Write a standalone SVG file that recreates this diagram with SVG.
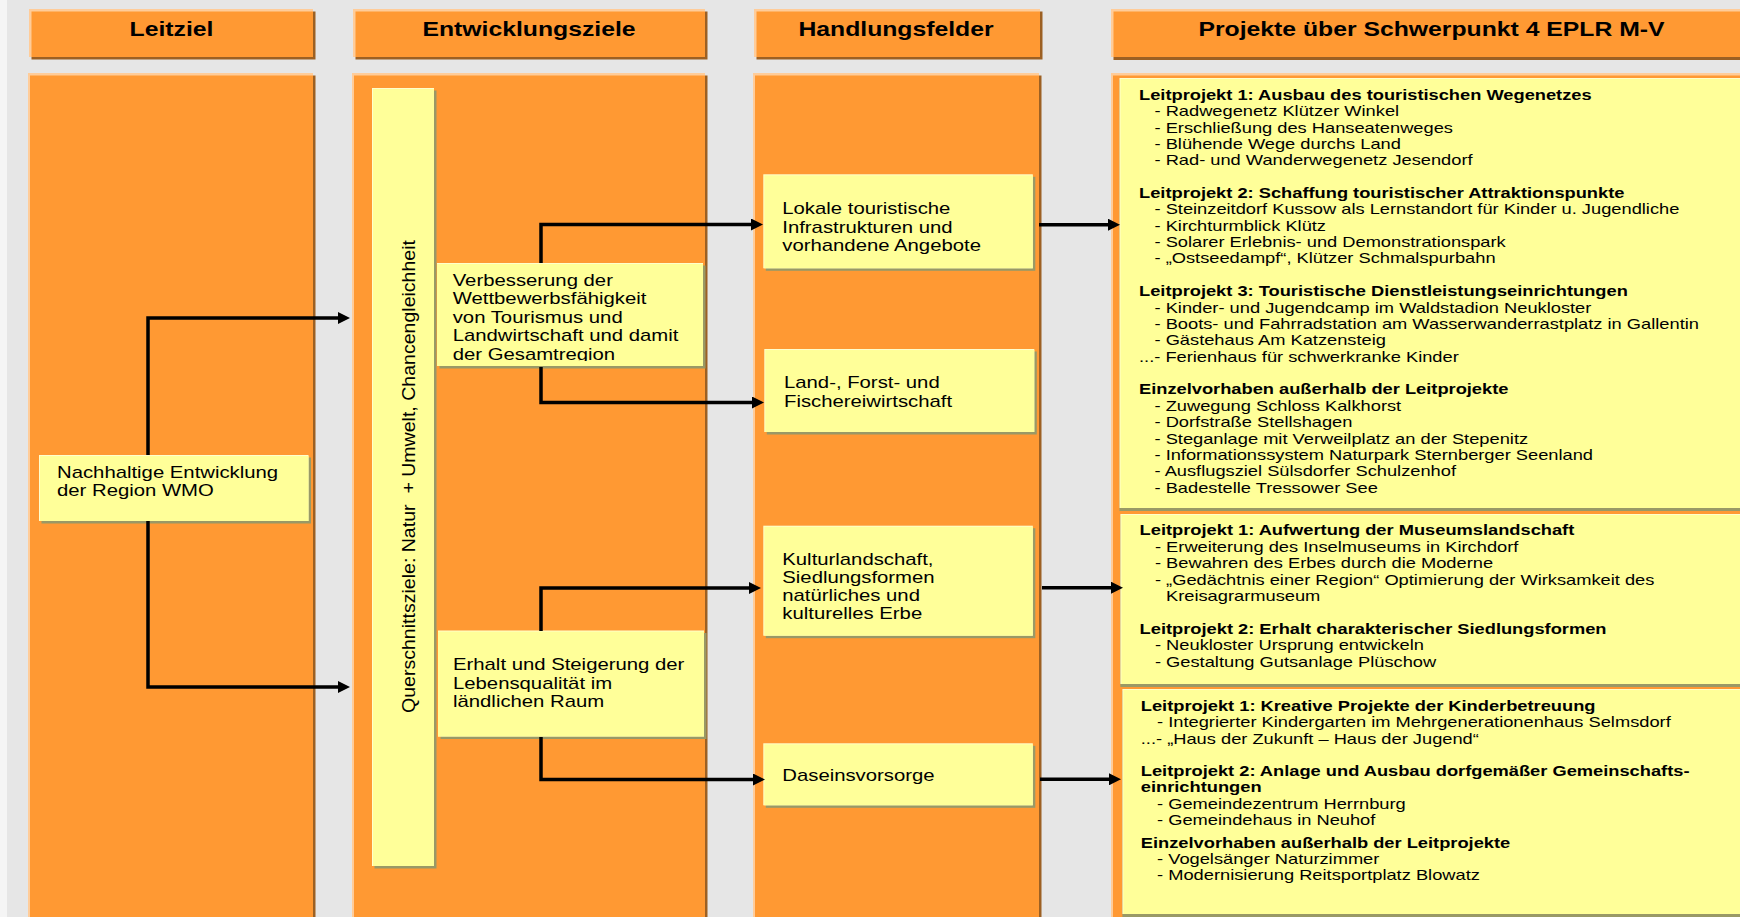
<svg xmlns="http://www.w3.org/2000/svg" width="1740" height="917" viewBox="0 0 1740 917">
<style>
.bg{fill:#e6e6e6}
.org{fill:#ff9933}
.hl{fill:#ffcc99}
.sh{fill:#9c6023}
.yel{fill:#ffff99}
.yhl{fill:#ffffcc}
.ysh{fill:#999966}
.t{font-family:"Liberation Sans",Arial,Helvetica,sans-serif;fill:#000}
.hd{font-size:19.5px;font-weight:bold}
.bx{font-size:16px}
.pj{font-size:14.4px}
.b{font-weight:bold}
.con{fill:none;stroke:#000;stroke-width:3.5;stroke-linejoin:miter}
</style>
<defs>
<marker id="ah" viewBox="0 0 12 12" refX="2" refY="6" markerWidth="12" markerHeight="12" markerUnits="userSpaceOnUse" orient="auto">
<path d="M0,0 L12,6 L0,12 z" fill="#000"/>
</marker>
<clipPath id="clipV"><rect x="437" y="263" width="267" height="98"/></clipPath>
</defs>
<rect class="bg" x="0" y="0" width="1740" height="917"/>
<rect x="0" y="0" width="7" height="917" fill="#f5f5f5"/>

<!-- Headers -->
<g id="hdr-leitziel">
<rect class="sh" x="31.5" y="11.5" width="284" height="48"/>
<rect class="hl" x="29" y="9" width="284" height="48"/>
<rect class="org" x="31.5" y="11.5" width="281.5" height="45.5"/>
<text class="t hd" text-anchor="middle" transform="translate(171.5,35.5) scale(1.27,1)">Leitziel</text>
</g>
<g id="hdr-entwicklungsziele">
<rect class="sh" x="355.5" y="11.5" width="352" height="48"/>
<rect class="hl" x="353" y="9" width="352" height="48"/>
<rect class="org" x="355.5" y="11.5" width="349.5" height="45.5"/>
<text class="t hd" text-anchor="middle" transform="translate(529,35.5) scale(1.27,1)">Entwicklungsziele</text>
</g>
<g id="hdr-handlungsfelder">
<rect class="sh" x="756.5" y="11.5" width="286" height="48"/>
<rect class="hl" x="754" y="9" width="286" height="48"/>
<rect class="org" x="756.5" y="11.5" width="283.5" height="45.5"/>
<text class="t hd" text-anchor="middle" transform="translate(896,35.5) scale(1.27,1)">Handlungsfelder</text>
</g>
<g id="hdr-projekte">
<rect class="sh" x="1113.5" y="11.5" width="640" height="48.5"/>
<rect class="hl" x="1111" y="9" width="640" height="48"/>
<rect class="org" x="1113.5" y="11.5" width="637.5" height="45.5"/>
<text class="t hd" text-anchor="middle" transform="translate(1431.5,35.5) scale(1.27,1)">Projekte über Schwerpunkt 4 EPLR M-V</text>
</g>

<!-- Column bodies -->
<g id="col-leitziel">
<rect class="sh" x="30.5" y="75.5" width="285" height="860"/>
<rect class="hl" x="28" y="73" width="285" height="860"/>
<rect class="org" x="30" y="75.5" width="283" height="860"/>
</g>
<g id="col-entwicklungsziele">
<rect class="sh" x="354.5" y="75.5" width="353" height="860"/>
<rect class="hl" x="352" y="73" width="353" height="860"/>
<rect class="org" x="354" y="75.5" width="351" height="860"/>
</g>
<g id="col-handlungsfelder">
<rect class="sh" x="755.5" y="75.5" width="286" height="860"/>
<rect class="hl" x="753" y="73" width="286" height="860"/>
<rect class="org" x="755" y="75.5" width="284" height="860"/>
</g>
<g id="col-projekte">
<rect class="hl" x="1111" y="73" width="640" height="860"/>
<rect class="org" x="1113" y="75.5" width="640" height="860"/>
</g>

<!-- Leitziel node -->
<g id="node-nachhaltig">
<rect class="ysh" x="41.5" y="457.5" width="269.5" height="66"/>
<rect class="yhl" x="39" y="455" width="269.5" height="66"/>
<rect class="yel" x="40" y="456" width="268.5" height="65"/>
<g class="t bx" transform="translate(57,0) scale(1.27,1)">
<text x="0" y="478.5">Nachhaltige Entwicklung</text>
<text x="0" y="496.5">der Region WMO</text>
</g>
</g>

<!-- Querschnittsziele -->
<g id="node-querschnitt">
<rect class="ysh" x="374.5" y="90.5" width="62" height="778"/>
<rect class="yhl" x="372" y="88" width="62" height="778"/>
<rect class="yel" x="373" y="89" width="61" height="777"/>
<text class="t" font-size="18" transform="translate(414.5,713) rotate(-90)" textLength="473" lengthAdjust="spacingAndGlyphs">Querschnittsziele: Natur&#160; + Umwelt, Chancengleichheit</text>
</g>

<!-- Entwicklungsziele nodes -->
<g id="node-verbesserung">
<rect class="ysh" x="439.5" y="265.5" width="266" height="103"/>
<rect class="yhl" x="437" y="263" width="266" height="103"/>
<rect class="yel" x="437" y="264" width="266" height="102"/>
<g class="t bx" clip-path="url(#clipV)">
<g transform="translate(452.7,0) scale(1.27,1)">
<text x="0" y="286">Verbesserung der</text>
<text x="0" y="304.3">Wettbewerbsfähigkeit</text>
<text x="0" y="322.7">von Tourismus und</text>
<text x="0" y="341">Landwirtschaft und damit</text>
<text x="0" y="359.8">der Gesamtregion</text>
</g>
</g>
</g>
<g id="node-erhalt">
<rect class="ysh" x="440.5" y="633" width="266" height="106"/>
<rect class="yhl" x="438" y="630.5" width="266" height="106"/>
<rect class="yel" x="438" y="631.5" width="266" height="105"/>
<g class="t bx" transform="translate(453,0) scale(1.27,1)">
<text x="0" y="670.5">Erhalt und Steigerung der</text>
<text x="0" y="689">Lebensqualität im</text>
<text x="0" y="707.3">ländlichen Raum</text>
</g>
</g>

<!-- Handlungsfelder nodes -->
<g id="node-lokale">
<rect class="ysh" x="765.8" y="176.8" width="269.5" height="94"/>
<rect class="yhl" x="763.3" y="174.3" width="269.5" height="94"/>
<rect class="yel" x="764.3" y="175.3" width="268.5" height="93"/>
<g class="t bx" transform="translate(782.3,0) scale(1.27,1)">
<text x="0" y="214.3">Lokale touristische</text>
<text x="0" y="232.6">Infrastrukturen und</text>
<text x="0" y="251">vorhandene Angebote</text>
</g>
</g>
<g id="node-land">
<rect class="ysh" x="766.8" y="351.5" width="270" height="83"/>
<rect class="yhl" x="764.3" y="349" width="270" height="83"/>
<rect class="yel" x="765.3" y="350" width="269" height="82"/>
<g class="t bx" transform="translate(784,0) scale(1.27,1)">
<text x="0" y="388.3">Land-, Forst- und</text>
<text x="0" y="406.6">Fischereiwirtschaft</text>
</g>
</g>
<g id="node-kultur">
<rect class="ysh" x="765.8" y="528.2" width="269.5" height="110"/>
<rect class="yhl" x="763.3" y="525.7" width="269.5" height="110"/>
<rect class="yel" x="764.3" y="526.7" width="268.5" height="109"/>
<g class="t bx" transform="translate(782.3,0) scale(1.27,1)">
<text x="0" y="565">Kulturlandschaft,</text>
<text x="0" y="583.3">Siedlungsformen</text>
<text x="0" y="601.3">natürliches und</text>
<text x="0" y="619.3">kulturelles Erbe</text>
</g>
</g>
<g id="node-daseins">
<rect class="ysh" x="765.8" y="745.8" width="269.5" height="62"/>
<rect class="yhl" x="763.3" y="743.3" width="269.5" height="62"/>
<rect class="yel" x="764.3" y="744.3" width="268.5" height="61"/>
<g class="t bx" transform="translate(782.3,0) scale(1.27,1)">
<text x="0" y="780.8">Daseinsvorsorge</text>
</g>
</g>

<!-- Projekte panels -->
<g id="panel-tourismus">
<rect class="ysh" x="1119.5" y="80" width="640" height="431"/>
<rect class="yhl" x="1119.5" y="78" width="640" height="430"/>
<rect class="yel" x="1120.5" y="79" width="640" height="429"/>
<g class="t pj" transform="translate(1139,0) scale(1.27,1)">
<text class="b" x="0" y="100">Leitprojekt 1: Ausbau des touristischen Wegenetzes</text>
<text x="12.2" y="116.3">- Radwegenetz Klützer Winkel</text>
<text x="12.2" y="132.6">- Erschließung des Hanseatenweges</text>
<text x="12.2" y="148.9">- Blühende Wege durchs Land</text>
<text x="12.2" y="165.2">- Rad- und Wanderwegenetz Jesendorf</text>
<text class="b" x="0" y="198.2">Leitprojekt 2: Schaffung touristischer Attraktionspunkte</text>
<text x="12.2" y="214.5">- Steinzeitdorf Kussow als Lernstandort für Kinder u. Jugendliche</text>
<text x="12.2" y="230.8">- Kirchturmblick Klütz</text>
<text x="12.2" y="247.1">- Solarer Erlebnis- und Demonstrationspark</text>
<text x="12.2" y="263.4">- „Ostseedampf“, Klützer Schmalspurbahn</text>
<text class="b" x="0" y="296.2">Leitprojekt 3: Touristische Dienstleistungseinrichtungen</text>
<text x="12.2" y="312.8">- Kinder- und Jugendcamp im Waldstadion Neukloster</text>
<text x="12.2" y="329.1">- Boots- und Fahrradstation am Wasserwanderrastplatz in Gallentin</text>
<text x="12.2" y="345.4">- Gästehaus Am Katzensteig</text>
<text x="0" y="361.7">...- Ferienhaus für schwerkranke Kinder</text>
<text class="b" x="0" y="394.3">Einzelvorhaben außerhalb der Leitprojekte</text>
<text x="12.2" y="410.8">- Zuwegung Schloss Kalkhorst</text>
<text x="12.2" y="427.1">- Dorfstraße Stellshagen</text>
<text x="12.2" y="443.6">- Steganlage mit Verweilplatz an der Stepenitz</text>
<text x="12.2" y="460">- Informationssystem Naturpark Sternberger Seenland</text>
<text x="12.2" y="476.3">- Ausflugsziel Sülsdorfer Schulzenhof</text>
<text x="12.2" y="492.8">- Badestelle Tressower See</text>
</g>
</g>
<g id="panel-kultur">
<rect class="ysh" x="1120.4" y="516" width="640" height="171"/>
<rect class="yhl" x="1120.4" y="514" width="640" height="170"/>
<rect class="yel" x="1121.4" y="515" width="640" height="169"/>
<g class="t pj" transform="translate(1139.6,0) scale(1.27,1)">
<text class="b" x="0" y="535">Leitprojekt 1: Aufwertung der Museumslandschaft</text>
<text x="12.1" y="552">- Erweiterung des Inselmuseums in Kirchdorf</text>
<text x="12.1" y="568.3">- Bewahren des Erbes durch die Moderne</text>
<text x="12.1" y="584.8">- „Gedächtnis einer Region“ Optimierung der Wirksamkeit des</text>
<text x="20.8" y="601">Kreisagrarmuseum</text>
<text class="b" x="0" y="633.7">Leitprojekt 2: Erhalt charakterischer Siedlungsformen</text>
<text x="12.1" y="650">- Neukloster Ursprung entwickeln</text>
<text x="12.1" y="666.8">- Gestaltung Gutsanlage Plüschow</text>
</g>
</g>
<g id="panel-daseins">
<rect class="ysh" x="1122.4" y="691" width="640" height="226"/>
<rect class="yhl" x="1122.4" y="689" width="640" height="225"/>
<rect class="yel" x="1123.4" y="690" width="640" height="224"/>
<g class="t pj" transform="translate(1140.8,0) scale(1.27,1)">
<text class="b" x="0" y="711">Leitprojekt 1: Kreative Projekte der Kinderbetreuung</text>
<text x="12.8" y="727.3">- Integrierter Kindergarten im Mehrgenerationenhaus Selmsdorf</text>
<text x="0" y="744">...- „Haus der Zukunft – Haus der Jugend“</text>
<text class="b" x="0" y="776">Leitprojekt 2: Anlage und Ausbau dorfgemäßer Gemeinschafts-</text>
<text class="b" x="0" y="792.3">einrichtungen</text>
<text x="12.8" y="809">- Gemeindezentrum Herrnburg</text>
<text x="12.8" y="825">- Gemeindehaus in Neuhof</text>
<text class="b" x="0" y="848.3">Einzelvorhaben außerhalb der Leitprojekte</text>
<text x="12.8" y="864.3">- Vogelsänger Naturzimmer</text>
<text x="12.8" y="880.3">- Modernisierung Reitsportplatz Blowatz</text>
</g>
</g>

<!-- Connectors -->
<g id="connectors">
<path class="con" d="M148,455 V318 H340" marker-end="url(#ah)"/>
<path class="con" d="M148,521 V687 H340" marker-end="url(#ah)"/>
<path class="con" d="M541,263 V224.5 H753" marker-end="url(#ah)"/>
<path class="con" d="M541,367 V402.5 H754" marker-end="url(#ah)"/>
<path class="con" d="M541,631 V588 H751" marker-end="url(#ah)"/>
<path class="con" d="M541,737 V779.5 H755" marker-end="url(#ah)"/>
<path class="con" d="M1039,224.7 H1110" marker-end="url(#ah)"/>
<path class="con" d="M1042,587.7 H1113" marker-end="url(#ah)"/>
<path class="con" d="M1040,779.3 H1111" marker-end="url(#ah)"/>
</g>
</svg>
